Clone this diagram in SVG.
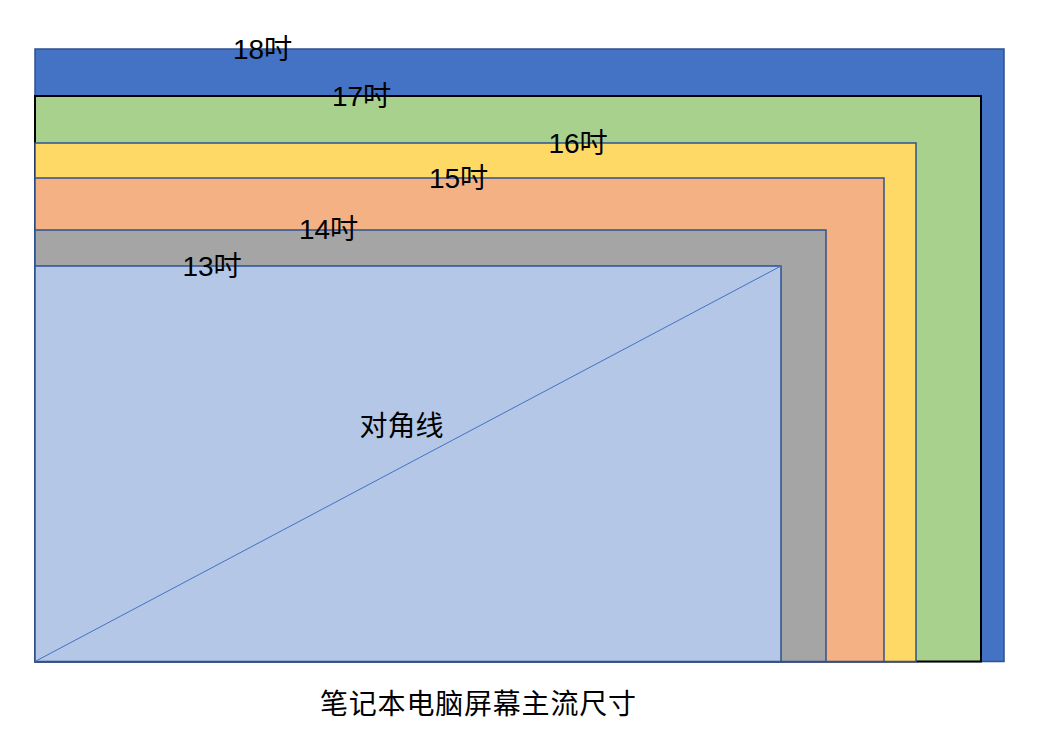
<svg xmlns="http://www.w3.org/2000/svg" width="1044" height="742" viewBox="0 0 1044 742">
<style>
.r{stroke:#2F528F;stroke-width:1.5}
.lbl{font-family:"Liberation Sans","Noto Sans CJK SC",sans-serif;font-size:28px;fill:#000;text-anchor:middle}
.cjk{font-family:"Noto Sans CJK SC","Liberation Sans",sans-serif;font-size:28px;fill:#000}
</style>
<rect width="1044" height="742" fill="#fff"/>
<g id="s18">
<rect class="r" x="35" y="49" width="969" height="612.5" fill="#4472C4"/>
<text class="lbl" x="262.5" y="59">18吋</text>
</g>
<g id="s17">
<rect x="35" y="96" width="946" height="565.5" fill="#A9D18E" stroke="#000" stroke-width="2"/>
<text class="lbl" x="361.5" y="106">17吋</text>
</g>
<g id="s16">
<rect class="r" x="35" y="143" width="881" height="518.5" fill="#FFD966"/>
<text class="lbl" x="578" y="153">16吋</text>
</g>
<g id="s15">
<rect class="r" x="35" y="178" width="849" height="483.5" fill="#F4B183"/>
<text class="lbl" x="458.5" y="188">15吋</text>
</g>
<g id="s14">
<rect class="r" x="35" y="230" width="791" height="431.5" fill="#A5A5A5"/>
<text class="lbl" x="328.5" y="239">14吋</text>
</g>
<g id="s13">
<rect class="r" x="35" y="266" width="746" height="395.5" fill="#B4C7E7"/>
<text class="lbl" x="212" y="276">13吋</text>
</g>
<g id="connectors">
<line x1="35" y1="661.5" x2="781" y2="266" stroke="#4472C4" stroke-width="1"/>
</g>
<g id="diag-label">
<text class="cjk" x="401.5" y="436" text-anchor="middle">对角线</text>
</g>
<g id="title">
<text class="cjk" x="320" y="714" letter-spacing="0.8">笔记本电脑屏幕主流尺寸</text>
</g>
</svg>
